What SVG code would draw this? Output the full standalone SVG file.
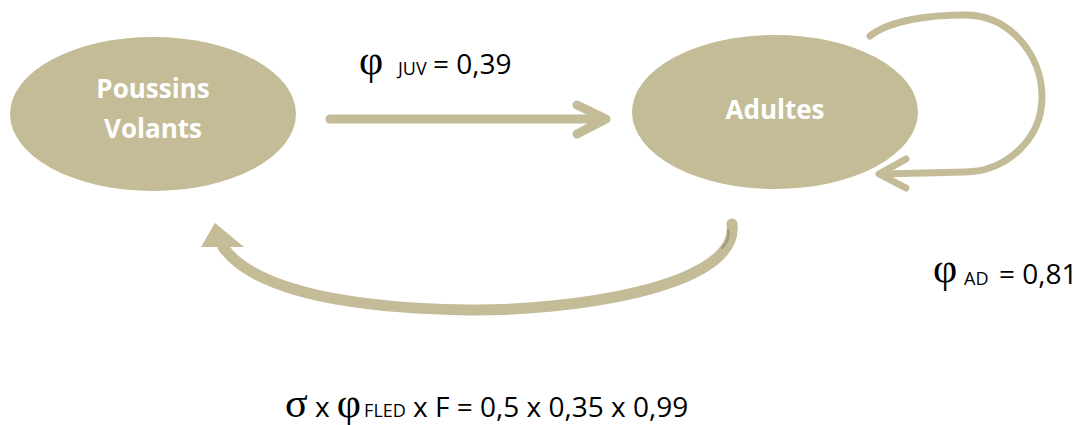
<svg xmlns="http://www.w3.org/2000/svg" width="1089" height="425" viewBox="0 0 1089 425">
<style>
.node{fill:#C4BC97;}
.ntext{font-family:"Open Sans","Liberation Sans",sans-serif;font-weight:bold;font-size:26px;fill:#FFFFFF;text-anchor:middle;}
.lbl{font-family:"Open Sans","Liberation Sans",sans-serif;font-size:28px;fill:#000;}
.sub{font-family:"Open Sans","Liberation Sans",sans-serif;font-size:18px;fill:#000;}
.phi{font-family:"Liberation Serif","DejaVu Serif",serif;font-size:42px;fill:#000;}
.conn{fill:none;stroke:#C4BC97;stroke-linecap:round;stroke-linejoin:round;}
</style>
<rect width="1089" height="425" fill="#FFFFFF"/>
<g id="node-poussins">
<ellipse class="node" cx="153" cy="114" rx="143" ry="77"/>
<text class="ntext" x="153" y="98">Poussins</text>
<text class="ntext" x="153" y="138">Volants</text>
</g>
<g id="node-adultes">
<ellipse class="node" cx="775" cy="112" rx="143" ry="77"/>
<text class="ntext" x="775" y="119">Adultes</text>
</g>
<g id="connectors">
<line class="conn" x1="330" y1="119" x2="604" y2="119" stroke-width="9" stroke-linecap="butt"/>
<polyline class="conn" points="577,105 606,119 577,134" stroke-width="9"/>
<path class="conn" d="M870,36 C890,20 930,15 965,15 C1010,15 1042,55 1042,97 C1042,140 1005,172 965,172 L882,174" stroke-width="7" stroke-linecap="butt"/>
<polyline class="conn" points="906,159 879,174 906,188" stroke-width="7"/>
<path class="conn" d="M732,224 C740,290 560,311 470,310 C330,308 250,285 223,247" stroke-width="11" stroke-linecap="butt"/>
<path d="M728,230 C730,238 726,244 722,248" fill="none" stroke="#9E9877" stroke-width="2" stroke-linecap="round"/>
<polygon points="215,223 201,247 244,247" fill="#C4BC97"/>
</g>
<g id="label-juv">
<text class="phi" x="359" y="74">φ</text>
<text class="sub" x="398" y="75">JUV</text>
<text class="lbl" x="433" y="74">= 0,39</text>
</g>
<g id="label-ad">
<text class="phi" x="933" y="282">φ</text>
<text class="sub" x="964" y="285">AD</text>
<text class="lbl" x="999" y="284">= 0,81</text>
</g>
<g id="label-fled">
<text x="285" y="417"><tspan class="phi" font-size="38">σ</tspan><tspan class="lbl" font-size="29"> x </tspan><tspan class="phi">φ</tspan><tspan class="sub" dx="3">FLED</tspan><tspan class="lbl" font-size="29"> x F = 0,5 x 0,35 x 0,99</tspan></text>
</g>
</svg>
